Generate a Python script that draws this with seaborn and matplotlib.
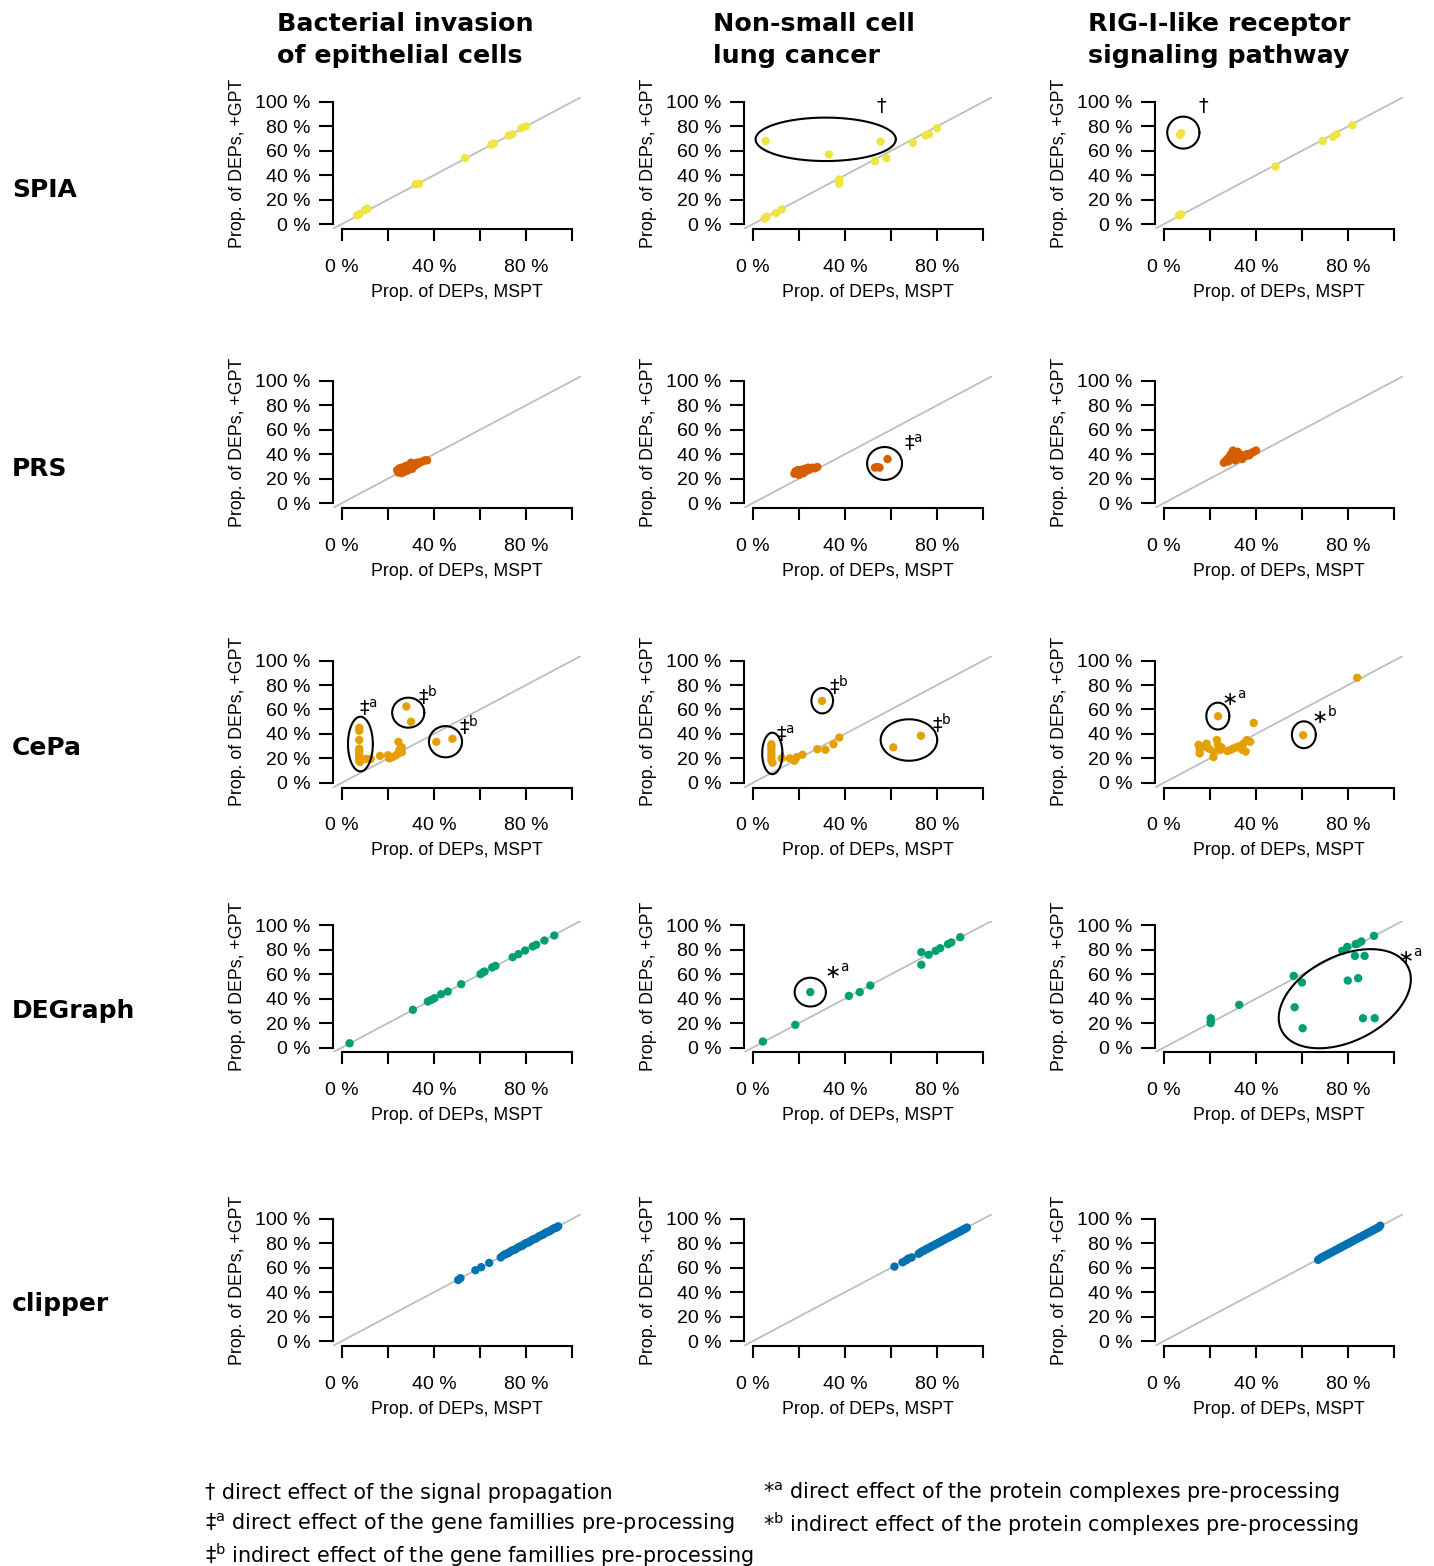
import numpy as np
import pandas as pd
import matplotlib
matplotlib.use("Agg")
import matplotlib.pyplot as plt
import seaborn as sns

# Données (proportions en %)
methods = ["SPIA", "PRS", "CePa", "DEGraph", "clipper"]
pathways = ["Bacterial invasion\nof epithelial cells",
            "Non-small cell\nlung cancer",
            "RIG-I-like receptor\nsignaling pathway"]
method_colors = ["#F0E442", "#D55E00", "#E69F00", "#009E73", "#0072B2"]

x_ticks = [0, 20, 40, 60, 80, 100]
x_ticklabels = ["0 %", "", "40 %", "", "80 %", ""]
y_ticks = [0, 20, 40, 60, 80, 100]
y_ticklabels = ["0 %", "20 %", "40 %", "60 %", "80 %", "100 %"]

# SPIA
spia_bact_x = [6.5, 7.5, 10, 11, 32, 33.5, 53.5, 65, 66, 72.5, 74, 78, 80]
spia_bact_y = [7, 8, 11.5, 12.5, 32.5, 33, 54, 65, 66, 72.5, 73.5, 78.5, 80]
spia_nsclc_x = [5, 6, 5.5, 10, 12.5, 33, 37.5, 37.5, 53, 55.5, 58, 69.5, 75, 76.5, 80]
spia_nsclc_y = [4.5, 6, 68, 9, 12, 57, 36.5, 33, 51.5, 67.5, 54, 66.5, 72.5, 73.5, 78.5]
spia_rig_x = [7, 7.5, 6.5, 7.5, 48.5, 69, 73.5, 75, 82]
spia_rig_y = [73, 74.5, 7, 8, 47, 68, 71.5, 73.5, 81]

# PRS
prs_bact_x = [24, 24.5, 25, 25.5, 26, 26.5, 27, 27.5, 28, 28.5, 29, 29.5, 30, 30.5,
              31, 31.5, 32, 32.5, 33, 34, 35, 36, 37, 26, 28, 30]
prs_bact_y = [27, 25, 28.5, 26, 29, 27, 25.5, 30, 28, 26.5, 31, 29, 30, 28,
              32, 30.5, 31, 33, 32, 33.5, 34, 35, 35, 24.5, 30.5, 33]
prs_nsclc_x = [18, 18.5, 19, 19.5, 20, 20.5, 21, 21.5, 22, 22.5, 23, 23.5, 24, 25,
               26, 27, 28, 20, 22, 24, 53, 54, 55, 58.5]
prs_nsclc_y = [24, 26, 25, 27, 24.5, 26.5, 25.5, 27.5, 26, 28, 26.5, 28.5, 27, 28,
               29, 28.5, 29.5, 23, 24.5, 29, 29, 29.5, 29, 36]
prs_rig_x = [26, 27, 28, 28, 29, 30, 30, 31, 31, 32, 33, 33, 34, 34, 35, 36, 37, 38,
             39, 40, 32, 29]
prs_rig_y = [33, 35, 34, 37, 36, 38, 43, 41, 35, 37, 38, 40, 36, 39, 38, 40, 39, 41,
             42, 43, 42, 40]

# CePa
cepa_bact_x = [7.5, 7.5, 7.5, 7.5, 7.5, 7.5, 7.5, 7.5, 7.8, 10.5, 12.5, 16.5, 20,
               20.5, 22, 23.5, 24.5, 25, 26, 24.5, 26, 28, 30, 41, 48]
cepa_bact_y = [45, 42.5, 35, 28, 25.5, 23, 20.5, 18, 17, 19.5, 19.5, 22, 22.5,
               20, 21, 22.5, 24, 27, 29, 33.5, 25, 62.5, 50, 33.5, 36]
cepa_nsclc_x = [8, 8, 8, 8, 8, 8, 8.5, 12.5, 16, 18, 19, 21.5, 28, 31.5, 35, 37.5,
                30, 61, 73]
cepa_nsclc_y = [31.5, 29.5, 27, 24, 21.5, 18.5, 16.5, 20, 20, 18, 21, 23, 27.5, 27,
                31.5, 37, 67, 29, 38.5]
cepa_rig_x = [15, 15.5, 15.5, 17, 18.5, 19.5, 21.5, 21.5, 23, 23.5, 24.5, 25, 27.5,
              29, 30, 31.5, 33, 34, 34.5, 35.5, 36, 37.5, 23.5, 39, 60.5, 84]
cepa_rig_y = [31, 27, 24, 29.5, 32, 28, 25.5, 21, 35, 31, 27, 29, 26, 27, 28, 29,
              30, 27, 32, 25.5, 35, 33.5, 54.5, 49, 39, 86]

# DEGraph
degraph_bact_x = [3.3, 30.8, 37.3, 38.8, 40.2, 43.1, 46, 51.8, 60.2, 61.2, 62, 65.3,
                  66.7, 74.2, 76.7, 79.6, 82.9, 84.4, 88, 92.3]
degraph_bact_y = [3.5, 30.9, 37.7, 39, 40.4, 43.7, 45.9, 51.9, 60.1, 61.5, 62.3, 65.6,
                  66.9, 74, 76.5, 79.5, 82.8, 84.2, 87.7, 91.8]
degraph_nsclc_x = [4.3, 18.4, 24.9, 41.7, 46.4, 51, 73.2, 73.2, 76.4, 79.4, 81.4,
                   84.8, 86.2, 90.1]
degraph_nsclc_y = [4.9, 18.6, 45.4, 42.3, 45.4, 50.8, 78.1, 67.8, 76, 79.2, 81.4,
                   84.7, 86.1, 90.4]
degraph_rig_x = [20.3, 20.3, 20.3, 32.7, 56.4, 60, 56.8, 60.3, 77.5, 79.7, 83.3, 84.3,
                 85.8, 91.3, 83, 87.2, 79.9, 84.4, 86.5, 91.6]
degraph_rig_y = [24, 21.3, 20, 35, 58.7, 53.3, 33, 15.8, 79.2, 82.5, 84.7, 85.2,
                 86.9, 91.5, 75.1, 75.1, 54.9, 56.8, 24, 24]

# clipper
clipper_bact_x = [50.5, 51.5, 58, 60.5, 64, 69, 70, 70.8, 71.5, 72.3, 73, 73.8, 74.5,
                  75.3, 76, 76.8, 77.5, 78.3, 79, 79.8, 80.5, 81.3, 82, 82.8, 83.5,
                  84.3, 85, 85.8, 86.5, 87.3, 88, 88.8, 89.5, 90.3, 91, 91.8, 92.5,
                  93.3, 94]
clipper_bact_y = [50, 51.5, 58, 60.5, 64, 68.5, 70, 71, 71.5, 72, 73, 74, 74.5,
                  75, 76, 77, 77.5, 78, 79, 80, 80.5, 81, 82, 83, 83.5,
                  84, 85, 86, 86.5, 87, 88, 89, 89.5, 90, 91, 92, 92.5,
                  93, 94]
clipper_nsclc_x = [61.5, 65, 66.5, 67.5, 69, 72, 72.8, 73.5, 74.3, 75, 75.8, 76.5,
                   77.3, 78, 78.8, 79.5, 80.3, 81, 81.8, 82.5, 83.3, 84, 84.8, 85.5,
                   86.3, 87, 87.8, 88.5, 89.3, 90, 90.8, 91.5, 92.3, 93]
clipper_nsclc_y = [61, 64.5, 66, 67.5, 68.5, 71.5, 72.5, 73.5, 74, 75, 75.5, 76.5,
                   77, 78, 78.5, 79.5, 80, 81, 81.5, 82.5, 83, 84, 84.5, 85.5,
                   86, 87, 87.5, 88.5, 89, 90, 90.5, 91.5, 92, 93]
clipper_rig_x = [67, 67.8, 68.5, 69.3, 70, 70.8, 71.5, 72.3, 73, 73.8, 74.5, 75.3,
                 76, 76.8, 77.5, 78.3, 79, 79.8, 80.5, 81.3, 82, 82.8, 83.5, 84.3,
                 85, 85.8, 86.5, 87.3, 88, 88.8, 89.5, 90.3, 91, 91.8, 92.5, 93.3, 94]
clipper_rig_y = [66.5, 67.5, 68.5, 69, 70, 70.5, 71.5, 72, 73, 73.5, 74.5, 75,
                 76, 76.5, 77.5, 78, 79, 79.5, 80.5, 81, 82, 82.5, 83.5, 84,
                 85, 85.5, 86.5, 87, 88, 88.5, 89.5, 90, 91, 91.5, 92.5, 93, 94.5]

panel_data = {
    ("SPIA", 0): (spia_bact_x, spia_bact_y),
    ("SPIA", 1): (spia_nsclc_x, spia_nsclc_y),
    ("SPIA", 2): (spia_rig_x, spia_rig_y),
    ("PRS", 0): (prs_bact_x, prs_bact_y),
    ("PRS", 1): (prs_nsclc_x, prs_nsclc_y),
    ("PRS", 2): (prs_rig_x, prs_rig_y),
    ("CePa", 0): (cepa_bact_x, cepa_bact_y),
    ("CePa", 1): (cepa_nsclc_x, cepa_nsclc_y),
    ("CePa", 2): (cepa_rig_x, cepa_rig_y),
    ("DEGraph", 0): (degraph_bact_x, degraph_bact_y),
    ("DEGraph", 1): (degraph_nsclc_x, degraph_nsclc_y),
    ("DEGraph", 2): (degraph_rig_x, degraph_rig_y),
    ("clipper", 0): (clipper_bact_x, clipper_bact_y),
    ("clipper", 1): (clipper_nsclc_x, clipper_nsclc_y),
    ("clipper", 2): (clipper_rig_x, clipper_rig_y),
}

rows = []
for (m, p), (xs, ys) in panel_data.items():
    for xv, yv in zip(xs, ys):
        rows.append({"method": m, "pathway": p, "mspt": xv, "gpt": yv})
df = pd.DataFrame(rows)

# annotations : ellipses (centre x, centre y, demi-axe A, demi-axe B) en unités de données
ellipses = [
    ("SPIA", 1, 31.6, 69.4, (30.5, 0), (0, 17.8)),
    ("SPIA", 2, 8.4, 74.9, (7.0, 0), (0, 13.1)),
    ("PRS", 1, 57.2, 32.4, (7.6, 0), (0, 13.5)),
    ("CePa", 0, 8.0, 31.7, (5.4, 0), (0, 22.4)),
    ("CePa", 0, 28.8, 57.4, (7.0, 0), (0, 12.3)),
    ("CePa", 0, 45.0, 33.6, (7.2, 0), (0, 12.8)),
    ("CePa", 1, 8.4, 24.0, (4.4, 0), (0, 17.0)),
    ("CePa", 1, 30.1, 67.2, (4.7, 0), (0, 10.4)),
    ("CePa", 1, 67.8, 35.0, (12.3, 0), (0, 17.0)),
    ("CePa", 2, 23.4, 54.6, (5.0, 0), (0, 11.0)),
    ("CePa", 2, 60.8, 39.3, (5.2, 0), (0, 11.0)),
    ("DEGraph", 1, 24.9, 45.4, (6.8, 0), (0, 11.8)),
    ("DEGraph", 2, 78.6, 40.0, (27.5, 26.0), (-8.3, 31.2)),
]
labels = [
    ("SPIA", 1, 55.8, 96.0, "†"),
    ("SPIA", 2, 16.9, 96.0, "†"),
    ("PRS", 1, 70.0, 49.0, "‡$^{\\mathrm{a}}$"),
    ("CePa", 0, 11.5, 61.0, "‡$^{\\mathrm{a}}$"),
    ("CePa", 0, 37.3, 70.5, "‡$^{\\mathrm{b}}$"),
    ("CePa", 0, 55.0, 46.4, "‡$^{\\mathrm{b}}$"),
    ("CePa", 1, 14.0, 40.0, "‡$^{\\mathrm{a}}$"),
    ("CePa", 1, 37.2, 78.7, "‡$^{\\mathrm{b}}$"),
    ("CePa", 1, 82.2, 48.0, "‡$^{\\mathrm{b}}$"),
    ("CePa", 2, 30.5, 68.3, "∗$^{\\mathrm{a}}$"),
    ("CePa", 2, 69.8, 54.1, "∗$^{\\mathrm{b}}$"),
    ("DEGraph", 1, 36.5, 61.0, "∗$^{\\mathrm{a}}$"),
    ("DEGraph", 2, 106.8, 73.2, "∗$^{\\mathrm{a}}$"),
]

legend_left = ["† direct effect of the signal propagation",
               "‡$^{\\mathrm{a}}$ direct effect of the gene famillies pre-processing",
               "‡$^{\\mathrm{b}}$ indirect effect of the gene famillies pre-processing"]
legend_right = ["*$^{\\mathrm{a}}$ direct effect of the protein complexes pre-processing",
                "*$^{\\mathrm{b}}$ indirect effect of the protein complexes pre-processing"]

# ---- figure ----
sns.set_style("ticks")
plt.rcParams["font.family"] = ["Liberation Sans", "DejaVu Sans"]
plt.rcParams["mathtext.fontset"] = "dejavusans"
plt.rcParams["text.color"] = "black"
plt.rcParams["axes.labelcolor"] = "black"

W, H = 1434, 1566
fig = plt.figure(figsize=(W / 100, H / 100), dpi=100)

col_left = [332.8, 743.8, 1154.8]
row_top = [97.1, 376.1, 655.8, 920.6, 1214.1]
ax_w, ax_h = 248.4, 131.8
t = np.linspace(0, 2 * np.pi, 300)

for i, m in enumerate(methods):
    for j in range(3):
        ax = fig.add_axes([col_left[j] / W, 1 - (row_top[i] + ax_h) / H, ax_w / W, ax_h / H])
        ax.axline((0, 0), slope=1, color="#BEBEBE", lw=1.3, zorder=1)
        sub = df[(df["method"] == m) & (df["pathway"] == j)]
        sns.scatterplot(data=sub, x="mspt", y="gpt", color=method_colors[i], s=36,
                        edgecolor="none", linewidth=0, ax=ax, legend=False, zorder=3)
        ax.set_xlim(-4, 104)
        ax.set_ylim(-4, 104)
        ax.set_xticks(x_ticks)
        ax.set_xticklabels(x_ticklabels)
        ax.set_yticks(y_ticks)
        ax.set_yticklabels(y_ticklabels)
        ax.tick_params(axis="both", labelsize=14, width=1.5, color="black", labelcolor="black")
        ax.tick_params(axis="x", length=8.5, pad=13)
        ax.tick_params(axis="y", length=10, pad=6)
        for s in ["top", "right"]:
            ax.spines[s].set_visible(False)
        ax.spines["left"].set_bounds(0, 100)
        ax.spines["bottom"].set_bounds(0, 100)
        ax.spines["left"].set_linewidth(1.5)
        ax.spines["bottom"].set_linewidth(1.5)
        ax.spines["left"].set_color("black")
        ax.spines["bottom"].set_color("black")
        ax.set_xlabel("Prop. of DEPs, MSPT", fontsize=12.8, color="black")
        ax.set_ylabel("Prop. of DEPs, +GPT", fontsize=12.8, color="black")
        ax.xaxis.set_label_coords(0.5, -0.415)
        ax.yaxis.set_label_coords(-0.35, 0.5)
        for (em, ej, cx, cy, a, b) in ellipses:
            if em == m and ej == j:
                ax.plot(cx + a[0] * np.cos(t) + b[0] * np.sin(t),
                        cy + a[1] * np.cos(t) + b[1] * np.sin(t),
                        color="black", lw=1.5, clip_on=False, zorder=4)
        for (lm, lj, lx, ly, txt) in labels:
            if lm == m and lj == j:
                ax.text(lx, ly, txt, fontsize=14, ha="center", va="center",
                        family=["DejaVu Sans"], clip_on=False, color="black")

# titres de colonnes
title_left = [277, 713, 1088]
for j, p in enumerate(pathways):
    fig.text(title_left[j] / W, 1 - 40 / H, p, fontsize=18.3, fontweight="bold",
             family=["DejaVu Sans"], ha="left", va="center", linespacing=1.38,
             color="black")

# noms des méthodes
row_y = [190, 469, 748, 1011, 1304]
for i, m in enumerate(methods):
    fig.text(12 / W, 1 - row_y[i] / H, m, fontsize=18, fontweight="bold",
             family=["DejaVu Sans"], ha="left", va="center", color="black")

# légende du bas
for k, txt in enumerate(legend_left):
    fig.text(205 / W, 1 - (1493 + 31 * k) / H, txt, fontsize=14.9,
             family=["DejaVu Sans"], ha="left", va="center", color="black")
for k, txt in enumerate(legend_right):
    fig.text(763 / W, 1 - (1493 + 31 * k) / H, txt, fontsize=14.9,
             family=["DejaVu Sans"], ha="left", va="center", color="black")

fig.savefig("out.png", dpi=100)
